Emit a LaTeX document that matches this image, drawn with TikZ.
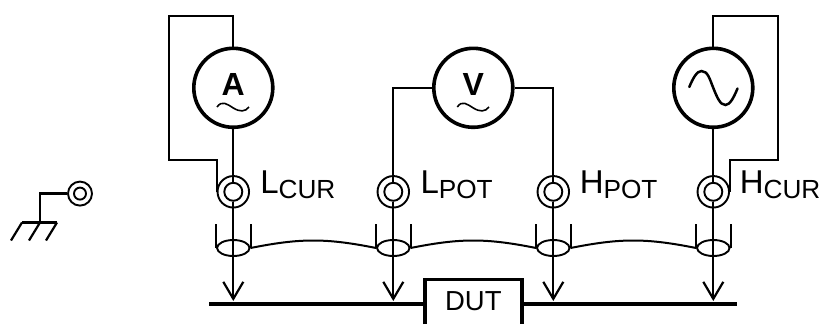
\documentclass[tikz,border=0pt]{standalone}
\usepackage{fontspec}
\setmainfont{Liberation Sans}
\usetikzlibrary{arrows.meta,shapes.geometric}
\newcommand{\fsz}[1]{\fontsize{#1bp}{#1bp}\selectfont}
\newcommand{\termlabel}[2]{{\fsz{33}#1}\raisebox{-5bp}{\fsz{26.2}#2}}
\tikzset{
  x=1bp,y=-1bp,
  wire/.style={line width=2bp,black},
  meter/.style={draw,circle,line width=3.6bp,minimum size=79bp,inner sep=0pt,fill=white},
  outerjack/.style={draw,circle,line width=1.9bp,minimum size=31.5bp,inner sep=0pt},
  innerjack/.style={draw,circle,line width=1.9bp,minimum size=18bp,inner sep=0pt},
  groundouter/.style={draw,circle,line width=1.9bp,minimum size=24bp,inner sep=0pt},
  groundinner/.style={draw,circle,line width=1.9bp,minimum size=12bp,inner sep=0pt},
  shield/.style={draw,ellipse,line width=1.9bp,minimum width=32.5bp,minimum height=16bp,inner sep=0pt},
  probe/.style={line width=2.2bp,-{Straight Barb[length=17bp,width=20bp,line width=2.2bp]}},
  busbar/.style={line width=3.8bp},
  termtext/.style={anchor=base west,inner sep=0pt,outer sep=0pt},
  metertext/.style={anchor=base,inner sep=0pt,outer sep=0pt,font=\fsz{32}\bfseries},
  tildeline/.style={line width=1.6bp},
  sineline/.style={line width=2.5bp,line cap=round},
}
\begin{document}
\begin{tikzpicture}
\useasboundingbox (0,0) rectangle (822,324);
% meters
\node[meter] (mA) at (233.3,87.8) {};
\node[meter] (mV) at (473.3,87.8) {};
\node[meter] (mS) at (713.3,87.8) {};
% jacks
\foreach \n/\x in {lc/233.3,lp/393.3,hp/553.3,hc/713.3}{
  \node[outerjack] (\n o) at (\x,191.8) {};
  \node[innerjack] (\n i) at (\x,191.8) {};
  \node[shield] (\n s) at (\x,248) {};
  \coordinate (\n t) at (\x,301);
  \draw[wire] (\n s.west) -- ++(0,-24);
  \draw[wire] (\n s.east) -- ++(0,-24);
  \draw[probe] (\n i.south) -- (\n t);
}
% shield links
\draw[wire] (lcs.east) .. controls +(50,-10) and +(-50,-10) .. (lps.west);
\draw[wire] (lps.east) .. controls +(50,-10) and +(-50,-10) .. (hps.west);
\draw[wire] (hps.east) .. controls +(50,-10) and +(-50,-10) .. (hcs.west);
% meter connections
\coordinate (aTL) at (169,15.7);
\coordinate (aBL) at (169,160);
\coordinate (sTR) at (777.7,15.7);
\coordinate (sBR) at (777.7,160);
\draw[wire] (mA.north) |- (aTL) -- (aBL) -| (lco.west);
\draw[wire] (mA.south) -- (lci.north);
\draw[wire] (mV.west) -| (lpi.north);
\draw[wire] (mV.east) -| (hpi.north);
\draw[wire] (mS.north) |- (sTR) -- (sBR) -| (hco.east);
\draw[wire] (mS.south) -- (hci.north);
% DUT and bus
\coordinate (busL) at (209,304);
\coordinate (busR) at (737,304);
\coordinate (dutBL) at (425,324);
\coordinate (dutBR) at (522,324);
\coordinate (dutML) at (425,304);
\coordinate (dutMR) at (522,304);
\draw[busbar] (busL) -- (dutML);
\draw[busbar] (dutMR) -- (busR);
\draw[busbar] (dutBL) |- (522,279.5) -- (dutBR);
\node[anchor=base,inner sep=0pt] (dut) at (473.3,310.2) {\fsz{27.5}DUT};
% meter glyphs
\node[metertext] (tA) at (233.3,95.5) {A};
\node[metertext] (tV) at (473.3,95.5) {V};
\draw[tildeline] (217,107) .. controls (222,100) and (227,104) .. (233.3,108) .. controls (240,112) and (245,112) .. (249,107);
\draw[tildeline] (457.3,107) .. controls (462,100) and (467,104) .. (473.3,108) .. controls (480,112) and (485,112) .. (489,107);
\draw[sineline] (689.3,87) .. controls (693,78) and (697,71) .. (701.5,71) .. controls (708,71) and (710,80) .. (713.3,88) .. controls (717,97) and (720,105) .. (725.5,105) .. controls (730,105) and (734,97) .. (737.5,88.5);
% labels
\node[termtext] (lLC) at (260.3,193) {\termlabel{L}{CUR}};
\node[termtext] (lLP) at (420.5,193) {\termlabel{L}{POT}};
\node[termtext] (lHP) at (579.8,193) {\termlabel{H}{POT}};
\node[termtext] (lHC) at (739.8,193) {\termlabel{H}{CUR}};
% ground
\node[groundouter] (go) at (80,193.6) {};
\node[groundinner] (gi) at (80,193.6) {};
\coordinate (gc) at (40,222.5);
\coordinate (gbL) at (22,222.5);
\coordinate (gbR) at (57,222.5);
\draw[line width=2.4bp] (go.west) -| (gc);
\draw[line width=2.4bp] (gbL) -- (gbR);
\draw[line width=2.2bp] (gbR) -- ++(-11,18);
\draw[line width=2.2bp] (gc) -- ++(-11,18);
\draw[line width=2.2bp] (gbL) -- ++(-11,18);
\end{tikzpicture}
\end{document}
